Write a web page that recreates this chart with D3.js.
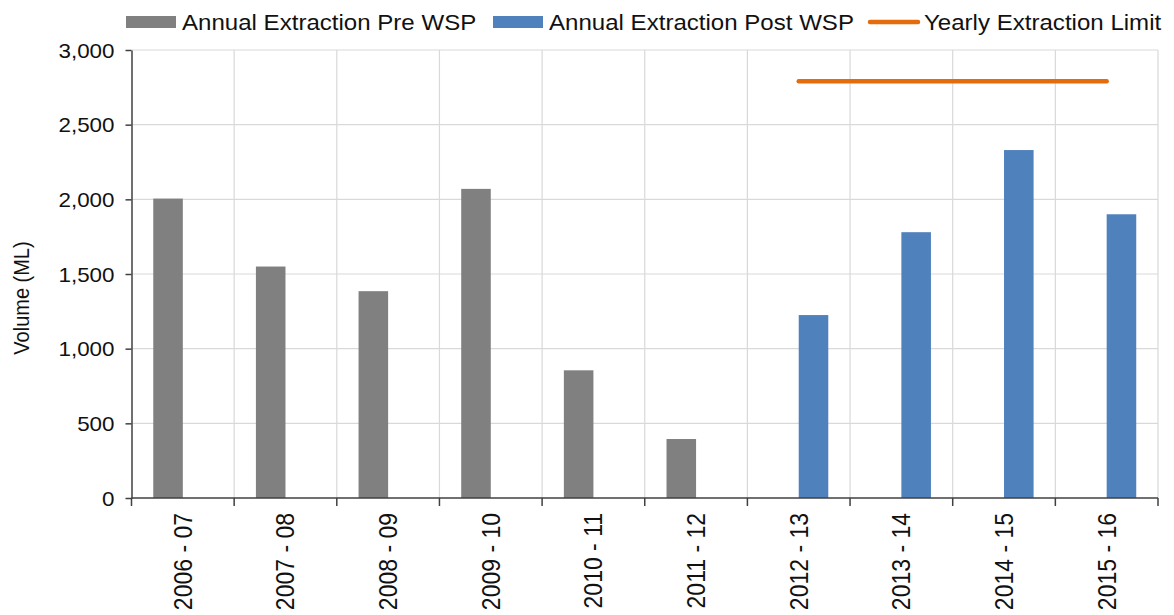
<!DOCTYPE html>
<html>
<head>
<meta charset="utf-8">
<script src="https://cdn.jsdelivr.net/npm/d3@7"></script>
<style>
  html, body { margin: 0; padding: 0; background: #fff; }
  svg { display: block; font-family: "Liberation Sans", Arial, sans-serif; }
</style>
</head>
<body>
<svg id="chart" width="1174" height="615"></svg>
<script>
// ---- data ----
const categories = ["2006 - 07","2007 - 08","2008 - 09","2009 - 10","2010 - 11","2011 - 12","2012 - 13","2013 - 14","2014 - 15","2015 - 16"];
const preWSP  = [2005, 1550, 1385, 2070, 855, 395, null, null, null, null];
const postWSP = [null, null, null, null, null, null, 1225, 1780, 2330, 1900];
const limit   = [null, null, null, null, null, null, 2790, 2790, 2790, 2790];
const yTicks  = [0, 500, 1000, 1500, 2000, 2500, 3000];
const seriesNames = ["Annual Extraction Pre WSP", "Annual Extraction Post WSP", "Yearly Extraction Limit"];
const colors = ["#808080", "#4f81bd", "#e46c0a"];

(function () {
// ---- layout ----
const svg = d3.select("#chart");
const mLeft = 131.5, mRight = 1158, mTop = 50, mBottom = 498;
const sx = 1.12; // horizontal stretch of the original picture's text

const x = d3.scaleBand().domain(categories).range([mLeft, mRight]).paddingInner(0).paddingOuter(0);
const y = d3.scaleLinear().domain([0, 3000]).range([mBottom, mTop]);
const barW = x.bandwidth() * 0.288;

// gridlines
const grid = svg.append("g").attr("stroke", "#d9d9d9").attr("stroke-width", 1.2);
yTicks.filter(d => d > 0).forEach(t => {
  grid.append("line").attr("x1", mLeft).attr("x2", mRight).attr("y1", y(t)).attr("y2", y(t));
});
categories.forEach((c, i) => {
  const xb = x(c) + x.bandwidth();
  grid.append("line").attr("x1", xb).attr("x2", xb).attr("y1", mTop).attr("y2", mBottom);
});

// bars
const bars = svg.append("g");
categories.forEach((c, i) => {
  const cx = x(c) + x.bandwidth() / 2;
  if (preWSP[i] != null) {
    bars.append("rect").attr("x", cx - barW).attr("y", y(preWSP[i]))
      .attr("width", barW).attr("height", y(0) - y(preWSP[i])).attr("fill", colors[0]);
  }
  if (postWSP[i] != null) {
    bars.append("rect").attr("x", cx).attr("y", y(postWSP[i]))
      .attr("width", barW).attr("height", y(0) - y(postWSP[i])).attr("fill", colors[1]);
  }
});

// limit line
const limPts = categories.map((c, i) => ({c, v: limit[i]})).filter(d => d.v != null);
svg.append("path")
  .attr("d", d3.line().x(d => x(d.c) + x.bandwidth() / 2).y(d => y(d.v))(limPts))
  .attr("fill", "none").attr("stroke", colors[2]).attr("stroke-width", 4.5)
  .attr("stroke-linecap", "round");

// y axis
const yAxis = svg.append("g").attr("transform", `translate(${mLeft},0)`)
  .call(d3.axisLeft(y).tickValues(yTicks).tickSize(6).tickSizeOuter(0).tickFormat(d3.format(",")));
yAxis.select(".domain").attr("stroke", "#404040").attr("stroke-width", 1.5);
yAxis.selectAll(".tick line").attr("stroke", "#404040").attr("stroke-width", 1.5);
yAxis.selectAll(".tick text").remove();
yAxis.selectAll(".tick").each(function(d) {
  d3.select(this).append("g").attr("transform", `translate(-17,0) scale(${sx},1)`)
    .append("text").attr("text-anchor", "end").attr("dy", "0.35em")
    .attr("font-size", 20).attr("fill", "#111").text(d3.format(",")(d));
});

// x axis
const xAxis = svg.append("g");
xAxis.append("line").attr("x1", mLeft).attr("x2", mRight).attr("y1", mBottom).attr("y2", mBottom)
  .attr("stroke", "#404040").attr("stroke-width", 1.5);
[mLeft].concat(categories.map(c => x(c) + x.bandwidth())).forEach(xb => {
  xAxis.append("line").attr("x1", xb).attr("x2", xb).attr("y1", mBottom).attr("y2", mBottom + 8)
    .attr("stroke", "#404040").attr("stroke-width", 1.5);
});
categories.forEach(c => {
  const cx = x(c) + x.bandwidth() / 2;
  xAxis.append("g").attr("transform", `translate(${cx},${mBottom + 15}) scale(${sx},1) rotate(-90)`)
    .append("text").attr("text-anchor", "end").attr("dy", "0.35em")
    .attr("font-size", 23).attr("fill", "#111").text(c);
});

// y title
svg.append("g").attr("transform", `translate(21,298) scale(${sx},1) rotate(-90)`)
  .append("text").attr("text-anchor", "middle").attr("dy", "0.35em")
  .attr("font-size", 20).attr("fill", "#111").text("Volume (ML)");

// legend
const legend = svg.append("g");
const legItems = [
  {x: 126, type: "rect", i: 0},
  {x: 493, type: "rect", i: 1},
  {x: 868, type: "line", i: 2}
];
legItems.forEach(it => {
  if (it.type === "rect") {
    legend.append("rect").attr("x", it.x).attr("y", 16).attr("width", 50).attr("height", 12).attr("fill", colors[it.i]);
  } else {
    legend.append("line").attr("x1", it.x + 2).attr("x2", it.x + 50).attr("y1", 22).attr("y2", 22)
      .attr("stroke", colors[it.i]).attr("stroke-width", 4.5).attr("stroke-linecap", "round");
  }
  legend.append("g").attr("transform", `translate(${it.x + 56},22) scale(${sx},1)`)
    .append("text").attr("dy", "0.35em").attr("font-size", 21.5).attr("fill", "#111").text(seriesNames[it.i]);
});
})();
</script>
</body>
</html>
